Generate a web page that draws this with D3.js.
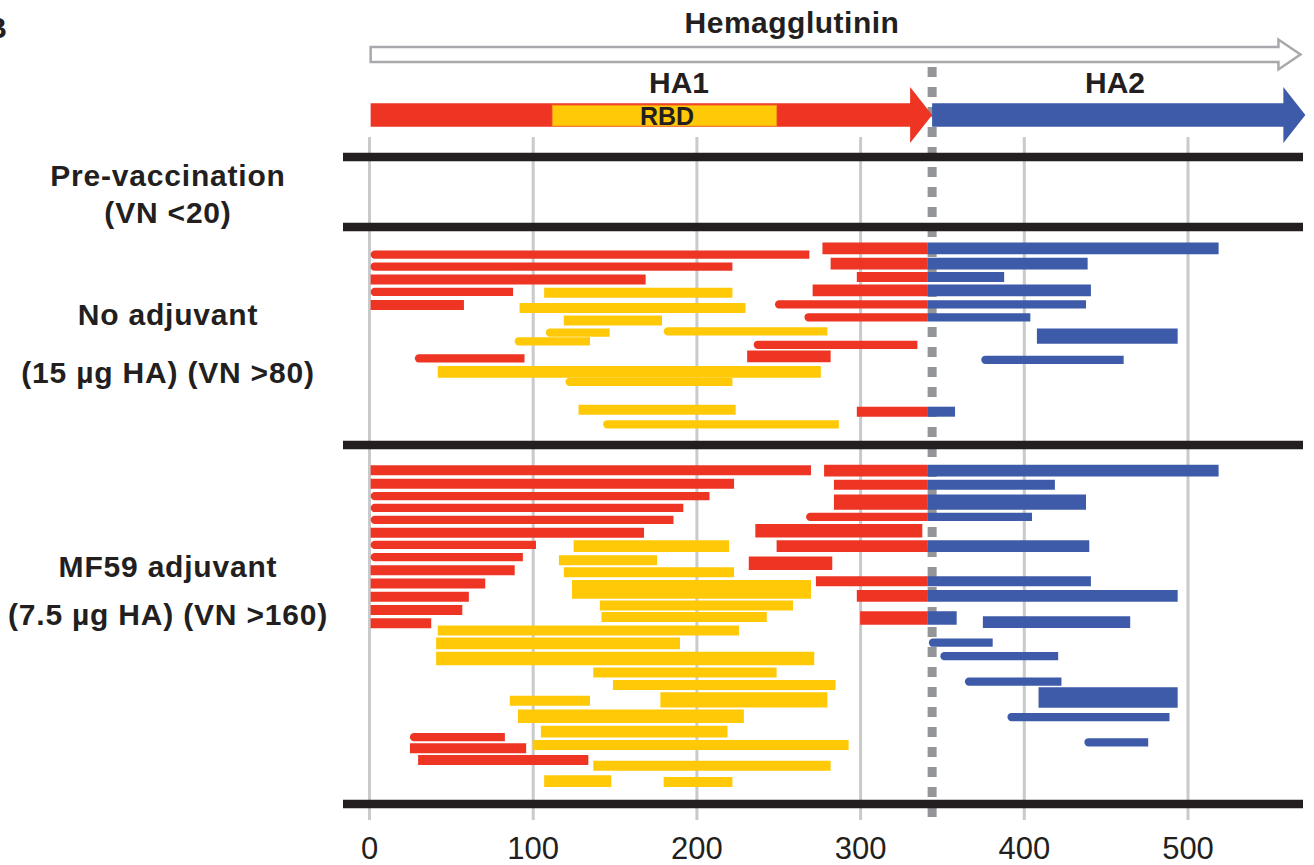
<!DOCTYPE html>
<html>
<head>
<meta charset="utf-8">
<script src="https://cdn.jsdelivr.net/npm/d3@7"></script>
<style>
  html, body { margin: 0; padding: 0; background: #fff; }
  svg { display: block; font-family: "Liberation Sans", Arial, Helvetica, sans-serif; }
</style>
</head>
<body>
<svg id="chart" width="1314" height="865"></svg>
<script>
// ---- data (residue positions) ----
const xTicks = [0, 100, 200, 300, 400, 500];
const proteinEnd = 569;
const ha1Range = [0, 344];
const ha2Range = [344, 572];
const rbdRange = [112, 249];
const cleavageSite = 344;
const junction = 341;

// track positions of panel dividers
const panelEdges = [0, 5.63, 23.15, 52];
const panelLabels = [
  ["Pre-vaccination", "(VN <20)"],
  ["No adjuvant", "(15 µg HA) (VN >80)"],
  ["MF59 adjuvant", "(7.5 µg HA) (VN >160)"],
];

// fragments: [start, end, track, clones]
const noAdjuvantHA = [
  [277, 519, 7.34, 3], [1, 269, 7.85, 1], [282, 439, 8.56, 3], [1, 222, 8.82, 1],
  [298, 388, 9.64, 2], [1, 169, 9.85, 2], [271, 441, 10.71, 3], [1, 88, 10.85, 1],
  [248, 438, 11.85, 1], [1, 58, 11.9, 2], [266, 404, 12.88, 1], [408, 494, 14.4, 5],
  [235, 335, 15.09, 1], [231, 282, 16.03, 3], [28, 95, 16.18, 1], [374, 461, 16.3, 1],
  [298, 358, 20.47, 2],
];
const noAdjuvantRBD = [
  [107, 222, 10.91, 2], [92, 230, 12.14, 2], [119, 179, 13.14, 2], [180, 280, 14.01, 1],
  [108, 147, 14.12, 1], [89, 135, 14.81, 1], [42, 276, 17.26, 3], [120, 222, 18.07, 1],
  [128, 224, 20.31, 2], [143, 287, 21.48, 1],
];
const mf59HA = [
  [1, 270, 25.17, 2], [278, 519, 25.2, 3], [1, 223, 26.26, 2], [284, 419, 26.34, 2],
  [1, 208, 27.25, 1], [284, 438, 27.73, 5], [1, 192, 28.21, 1], [267, 405, 28.93, 1],
  [1, 186, 29.16, 1], [236, 338, 30.04, 4], [1, 168, 30.2, 2], [1, 102, 31.18, 1],
  [249, 440, 31.28, 3], [1, 94, 32.16, 1], [232, 283, 32.66, 4], [1, 89, 33.21, 2],
  [273, 441, 34.09, 2], [1, 71, 34.28, 2], [298, 494, 35.27, 3], [1, 61, 35.34, 2],
  [1, 57, 36.41, 2], [300, 359, 37.05, 4], [375, 465, 37.39, 3], [1, 38, 37.48, 2],
  [342, 381, 39.04, 1], [349, 421, 40.12, 1], [364, 423, 42.16, 1], [409, 494, 43.44, 8],
  [390, 489, 45.01, 1], [25, 83, 46.63, 1], [437, 476, 47.04, 1], [25, 96, 47.52, 2],
  [30, 134, 48.46, 2],
];
const mf59RBD = [
  [125, 220, 31.27, 3], [116, 176, 32.41, 2], [119, 223, 33.37, 2], [124, 270, 34.76, 7],
  [141, 259, 36.05, 2], [142, 243, 36.97, 2], [42, 226, 38.06, 2], [41, 190, 39.1, 3],
  [41, 272, 40.31, 4], [137, 249, 41.43, 2], [149, 285, 42.44, 2], [178, 280, 43.64, 5],
  [86, 135, 43.71, 2], [91, 229, 44.94, 4], [105, 219, 46.19, 3], [100, 293, 47.26, 2],
  [137, 282, 48.93, 2], [107, 148, 50.17, 3], [180, 222, 50.23, 2],
];

// ---- look ----
const colors = { ha1: "#ee3524", rbd: "#ffc907", ha2: "#3d5ba9", ink: "#231f20",
  grid: "#c9cacc", dash: "#939598", outline: "#a7a9ac" };

const svg = d3.select("#chart");
const x = d3.scaleLinear().domain([0, 500]).range([369, 1187.5]);
const y = d3.scaleLinear().domain([0, 52]).range([157, 804]);
const thick = d3.scaleLinear().domain([0, 8]).range([6.5, 20.5]);

// grid + axis labels
const axisG = svg.append("g")
  .attr("transform", "translate(0,137)")
  .call(d3.axisBottom(x).tickValues(xTicks).tickSize(683).tickPadding(17));
axisG.select(".domain").remove();
axisG.selectAll(".tick line").attr("stroke", colors.grid).attr("stroke-width", 3);
axisG.selectAll(".tick text")
  .attr("fill", colors.ink)
  .style("font-size", "31px")
  .style("font-family", '"Liberation Sans", Arial, sans-serif');

// cleavage site dashed line
svg.append("line")
  .attr("x1", x(cleavageSite)).attr("x2", x(cleavageSite))
  .attr("y1", 67).attr("y2", 820)
  .attr("stroke", colors.dash).attr("stroke-width", 9)
  .attr("stroke-dasharray", "10,10");

// header arrows
function arrowPath(x0, x1, yc, body, head, headLen) {
  const xb = x1 - headLen;
  return `M${x0},${yc - body}H${xb}V${yc - head}L${x1},${yc}L${xb},${yc + head}V${yc + body}H${x0}Z`;
}
svg.append("path")
  .attr("d", arrowPath(x(1), x(proteinEnd), 54.5, 7.5, 15, 22))
  .attr("fill", "#fff").attr("stroke", colors.outline).attr("stroke-width", 2.5);
svg.append("path")
  .attr("d", arrowPath(x(ha1Range[0] + 1), x(ha1Range[1]), 115, 11.7, 28, 22))
  .attr("fill", colors.ha1);
svg.append("path")
  .attr("d", arrowPath(x(ha2Range[0]), x(ha2Range[1]), 115, 11.7, 28, 22))
  .attr("fill", colors.ha2);
svg.append("rect")
  .attr("x", x(rbdRange[0])).attr("width", x(rbdRange[1]) - x(rbdRange[0]))
  .attr("y", 105.3).attr("height", 20.7)
  .attr("fill", colors.rbd).attr("stroke", "#f7941d").attr("stroke-width", 1);

function label(text, cx, base, size, weight, spacing) {
  svg.append("text")
    .attr("x", cx).attr("y", base)
    .attr("text-anchor", "middle")
    .attr("fill", colors.ink)
    .style("font-size", size + "px")
    .style("font-weight", weight)
    .style("letter-spacing", (spacing || 0) + "px")
    .text(text);
}
label("Hemagglutinin", 792, 33, 30, "bold", 0.5);
label("HA1", 679, 93, 30, "bold");
label("HA2", 1115, 93, 30, "bold");
label("RBD", 667, 125, 25, "bold");
label("B", -4, 38, 30, "bold");

// fragments
function barPath(x0, x1, yc, h, round) {
  const t = yc - h / 2, b = yc + h / 2, r = h / 2;
  if (!round) return `M${x0},${t}H${x1}V${b}H${x0}Z`;
  return `M${x0 + r},${t}H${x1}V${b}H${x0 + r}A${r},${r} 0 0 1 ${x0 + r},${t}Z`;
}

function drawHA(frags) {
  frags.forEach(([s, e, t, n]) => {
    const parts = [];
    if (e <= junction) parts.push([s, e, colors.ha1]);
    else if (s >= junction) parts.push([s, e, colors.ha2]);
    else parts.push([s, junction, colors.ha1], [junction, e, colors.ha2]);
    parts.forEach(([a, b, c], i) => {
      svg.append("path")
        .attr("d", barPath(x(a), x(b), y(t), thick(n), n === 1 && i === 0))
        .attr("fill", c);
    });
  });
}
function drawRBD(frags) {
  frags.forEach(([s, e, t, n]) => {
    svg.append("path")
      .attr("d", barPath(x(s), x(e), y(t), thick(n), n === 1))
      .attr("fill", colors.rbd);
  });
}
drawHA(noAdjuvantHA);
drawRBD(noAdjuvantRBD);
drawHA(mf59HA);
drawRBD(mf59RBD);

// panel dividers
svg.selectAll(".divider")
  .data(panelEdges)
  .join("line")
  .attr("class", "divider")
  .attr("x1", 343).attr("x2", 1303)
  .attr("y1", (d) => y(d)).attr("y2", (d) => y(d))
  .attr("stroke", colors.ink).attr("stroke-width", 8.5);

// panel labels
const labelBase = [[186, 223], [325, 383], [577, 625]];
panelLabels.forEach((lines, i) => {
  lines.forEach((txt, j) => label(txt, 168, labelBase[i][j], 30, "bold", 0.8));
});
</script>
</body>
</html>
